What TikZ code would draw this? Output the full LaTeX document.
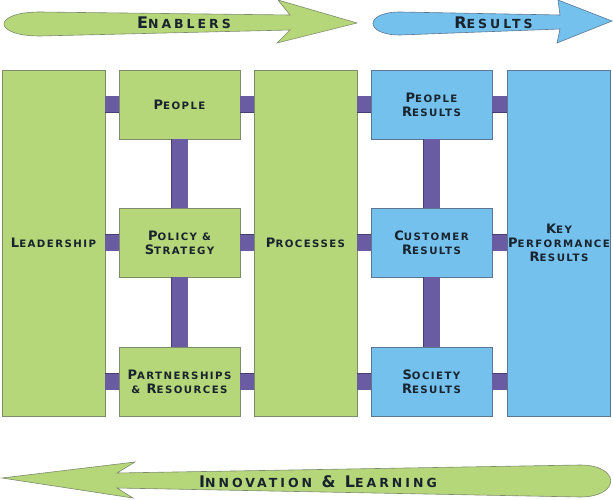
\documentclass[tikz,border=0pt]{standalone}
\usepackage{fontspec}
\newfontfamily\capsfont[LetterSpace=14]{DejaVu Sans}
\newfontfamily\bannerfont[LetterSpace=24]{DejaVu Sans}

\definecolor{leafgreen}{RGB}{181,215,122}
\definecolor{leafedge}{RGB}{125,138,108}
\definecolor{skyblue}{RGB}{117,193,238}
\definecolor{skyedge}{RGB}{92,118,145}
\definecolor{linkpurple}{RGB}{106,92,162}
\definecolor{linkedge}{RGB}{72,62,112}
\definecolor{inkdark}{RGB}{25,35,45}

% fake small caps: first letter big, rest small
\newcommand\smc[2]{#1{\fontsize{10.2}{14}\selectfont #2}}
\newcommand\bigsmc[2]{#1{\fontsize{12.5}{16}\selectfont #2}}

\tikzset{
  box/.style={draw, line width=0.6pt, align=center, inner sep=0pt, text=inkdark,
    font=\capsfont\bfseries\fontsize{13}{14}\selectfont},
  enabler/.style={box, fill=leafgreen, draw=leafedge},
  result/.style={box, fill=skyblue, draw=skyedge},
  pillar/.style={minimum width=103pt, minimum height=346pt},
  cell/.style={minimum width=121pt, minimum height=69pt},
  link/.style={draw=linkedge, line width=0.5pt, double=linkpurple, double distance=16pt},
  banner/.style={line width=0.6pt},
  bannertext/.style={text=inkdark, font=\bannerfont\bfseries\fontsize{16}{16}\selectfont}
}

\begin{document}
\begin{tikzpicture}[x=1pt, y=-1pt]
  \useasboundingbox (0,0) rectangle (613,500);

  % banners
  \draw[banner, fill=leafgreen, draw=leafedge] (290,15) -- (278,0) -- (357,23) -- (277,43) -- (290,30)
    -- (40,36) .. controls (-8,36) and (-8,12) .. (40,12) -- cycle;
  \draw[banner, fill=skyblue, draw=skyedge] (560,15) -- (558,0) -- (612,21) -- (557,43) -- (560,29)
    -- (400,35) .. controls (364,35) and (364,12) .. (400,12) -- cycle;
  \draw[banner, fill=leafgreen, draw=leafedge] (117,473) -- (135,462) -- (2,478) -- (133,498) -- (117,488)
    -- (580,497) .. controls (621,497) and (621,465) .. (580,465) -- cycle;
  \node[bannertext] (enablers) at (184,22.5) {\bigsmc{E}{NABLERS}};
  \node[bannertext] (results) at (493.5,22.5) {\bigsmc{R}{ESULTS}};
  \node[bannertext] (innov) at (318,482) {\bigsmc{I}{NNOVATION} \& \bigsmc{L}{EARNING}};

  % enablers
  \node[enabler, pillar] (lead) at (53.5,243) {\smc{L}{EADERSHIP}};
  \node[enabler, cell] (people) at (179.5,104.5) {\smc{P}{EOPLE}};
  \node[enabler, cell] (policy) at (179.5,242.5) {\smc{P}{OLICY \&}\\\smc{S}{TRATEGY}};
  \node[enabler, cell] (partner) at (179.5,381.5) {\smc{P}{ARTNERSHIPS}\\{\fontsize{10.2}{14}\selectfont\&} \smc{R}{ESOURCES}};
  \node[enabler, pillar] (proc) at (305.5,243) {\smc{P}{ROCESSES}};

  % results
  \node[result, cell] (peopleres) at (431.5,104.5) {\smc{P}{EOPLE}\\\smc{R}{ESULTS}};
  \node[result, cell] (custres) at (431.5,242.5) {\smc{C}{USTOMER}\\\smc{R}{ESULTS}};
  \node[result, cell] (socres) at (431.5,381.5) {\smc{S}{OCIETY}\\\smc{R}{ESULTS}};
  \node[result, pillar] (kpr) at (559,243) {\smc{K}{EY}\\\smc{P}{ERFORMANCE}\\\smc{R}{ESULTS}};

  % links
  \foreach \l/\r in {people/peopleres, policy/custres, partner/socres} {
    \draw[link] (lead.east |- \l) -- (\l.west);
    \draw[link] (\l.east) -- (proc.west |- \l);
    \draw[link] (proc.east |- \r) -- (\r.west);
    \draw[link] (\r.east) -- (kpr.west |- \r);
  }
  \draw[link] (people.south) -- (policy.north);
  \draw[link] (policy.south) -- (partner.north);
  \draw[link] (peopleres.south) -- (custres.north);
  \draw[link] (custres.south) -- (socres.north);
\end{tikzpicture}
\end{document}
